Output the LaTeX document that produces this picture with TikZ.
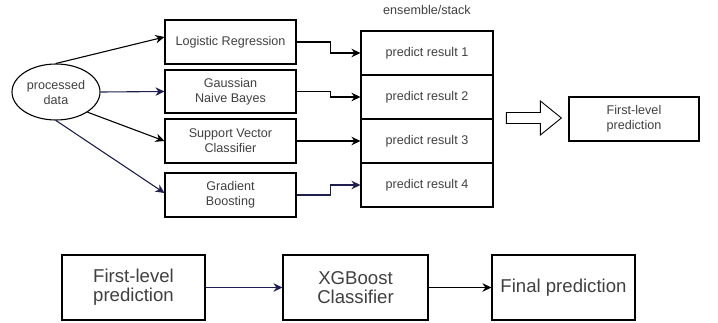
\documentclass[tikz,border=0pt]{standalone}
\usepackage{fontspec}
\setmainfont{Liberation Sans}
\usetikzlibrary{shapes.geometric,shapes.arrows,arrows.meta}

\begin{document}
\begin{tikzpicture}[x=1pt, y=-1pt, line width=1.1pt, >={Stealth[length=9pt,width=8.5pt]}]
    \tikzstyle{every node}=[text=black!75, font=\fontsize{12.6}{15}\selectfont, align=center]
    \tikzstyle{model}=[draw=black, rectangle, minimum width=131, minimum height=44, inner sep=0pt]
    \tikzstyle{result}=[draw=black, rectangle, minimum width=132, minimum height=44, inner sep=0pt]
    \tikzstyle{final}=[draw=black, rectangle, minimum width=143, minimum height=65, inner sep=0pt, font=\fontsize{18.6}{19}\selectfont]
    \tikzstyle{navy}=[draw={rgb,255:red,30;green,30;blue,80}]

    \useasboundingbox (0,0) rectangle (718,322);

% First level: base models feed the stack of predictions.

    \node [draw=black, ellipse, minimum width=88, minimum height=56, inner sep=0pt] (data) at (56,92) {processed\\data};
    \node [model] (lr) at (230.5,42) {Logistic Regression};
    \node [model, minimum height=43] (gnb) at (230.5,91.5) {Gaussian\\Naive Bayes};
    \node [model] (svc) at (230.5,141) {Support Vector\\Classifier};
    \node [model] (gb) at (230.5,195) {Gradient\\Boosting};

    \node [result] (r1) at (427,53) {predict result 1};
    \node [result] (r2) at (427,97) {predict result 2};
    \node [result] (r3) at (427,141) {predict result 3};
    \node [result] (r4) at (427,185) {predict result 4};
    \node (stack) at (427,10) {ensemble/stack};

    \node [draw=black, single arrow, minimum height=55, minimum width=34, inner sep=5pt, single arrow head extend=11.5pt, single arrow tip angle=78, line width=0.9pt] (big) at (530.5,118) {};
    \node [model, minimum width=130] (flp) at (634,119) {First-level\\prediction};

    \draw [->] (data.north) -- ([yshift=5pt]lr.west);
    \draw [->, navy] (data.east) -- (gnb.west);
    \draw [->] (data.south east) -- (svc.west);
    \draw [->, navy] (data.south) -- ([yshift=2pt]gb.west);

    \draw [->] (lr.east) -- ++(34,0) |- (r1.west);
    \draw [->] (gnb.east) -- ++(34,0) |- (r2.west);
    \draw [->] (svc.east) -- (r3.west);
    \draw [->, navy] (gb.east) -- ++(34,0) |- (r4.west);

% Second level: XGBoost on the first-level prediction.

    \node [final] (b1) at (133.5,287.5) {First-level\\prediction};
    \node [final, minimum width=145] (xgb) at (355.5,287.5) {XGBoost\\Classifier};
    \node [final] (fin) at (563.5,287.5) {Final prediction};

    \draw [->, navy] (b1.east) -- (xgb.west);
    \draw [->] (xgb.east) -- (fin.west);

\end{tikzpicture}
\end{document}
